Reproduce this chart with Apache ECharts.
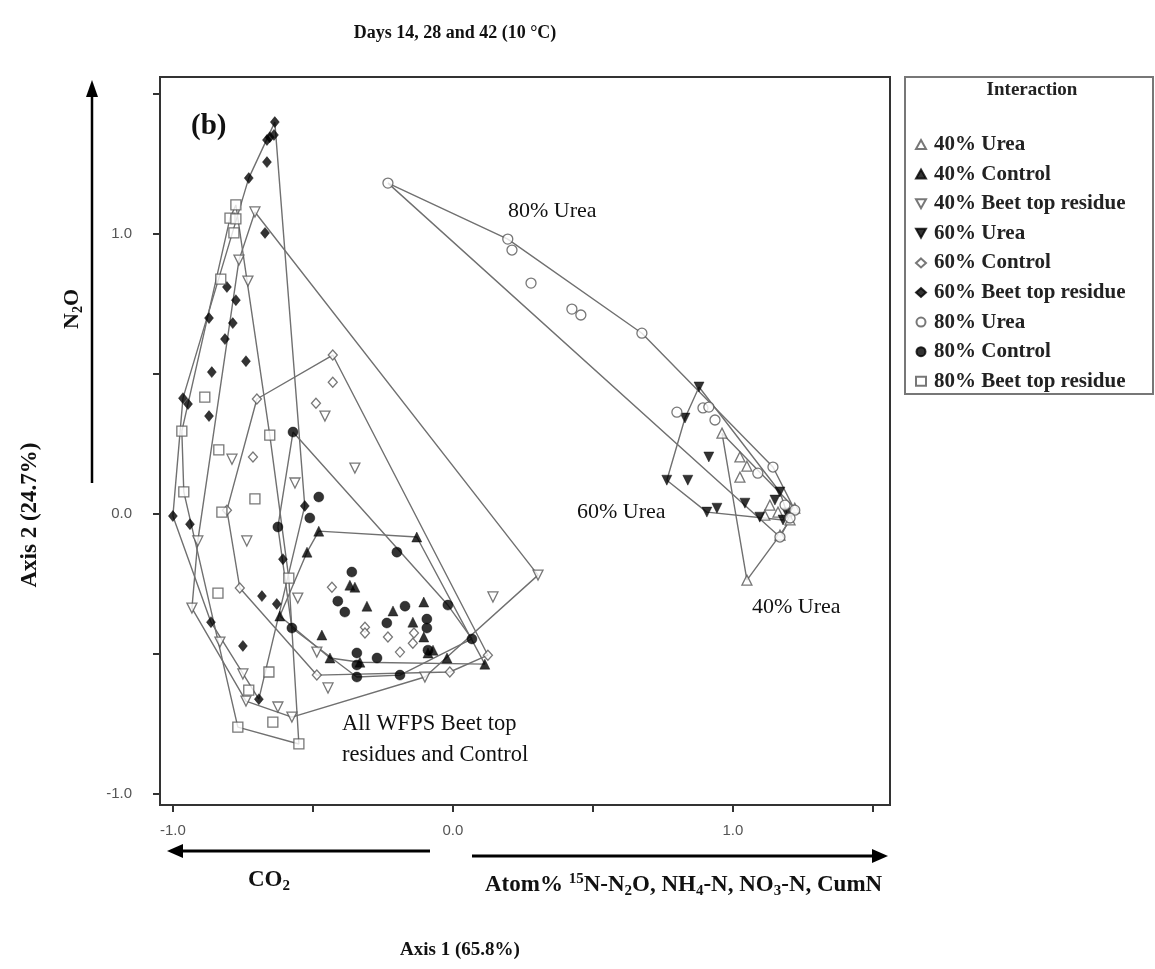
<!DOCTYPE html>
<html><head><meta charset="utf-8">
<script src="https://cdn.jsdelivr.net/npm/echarts@6/dist/echarts.min.js"></script>
<style>html,body{margin:0;padding:0;background:#fff}#c{width:1155px;height:969px}</style>
</head><body><div id="c"></div><script>
// ---- data (Axis 1, Axis 2 scores) ----
const seriesNames = ['40% Urea','40% Control','40% Beet top residue','60% Urea','60% Control','60% Beet top residue','80% Urea','80% Control','80% Beet top residue'];
const xTickValues = [-1, -0.5, 0, 0.5, 1, 1.5];
const xLabelValues = [-1, 0, 1];
const yTickValues = [-1, -0.5, 0, 0.5, 1, 1.5];
const yLabelValues = [-1, 0, 1];

const urea40 = [[0.961,0.289],[1.025,0.204],[1.050,0.171],[1.025,0.132],[1.050,-0.236],[1.132,0.032],[1.161,0.007],[1.114,-0.004],[1.204,-0.021],[1.168,-0.075],[1.221,0.021]];
const control40 = [[-0.479,-0.061],[-0.129,-0.082],[-0.521,-0.136],[-0.368,-0.254],[-0.350,-0.261],[-0.307,-0.329],[-0.214,-0.346],[-0.104,-0.314],[-0.143,-0.386],[-0.104,-0.439],[-0.468,-0.432],[-0.439,-0.514],[-0.021,-0.514],[0.114,-0.536],[-0.332,-0.529],[-0.089,-0.496],[-0.071,-0.486],[-0.618,-0.364]];
const beet40 = [[-0.707,1.079],[-0.764,0.907],[-0.732,0.832],[-0.789,0.196],[-0.564,0.111],[-0.736,-0.096],[-0.911,-0.096],[-0.457,0.350],[-0.350,0.164],[0.304,-0.218],[-0.932,-0.336],[-0.832,-0.457],[-0.750,-0.571],[-0.739,-0.668],[-0.625,-0.689],[-0.575,-0.725],[-0.554,-0.300],[-0.446,-0.621],[-0.486,-0.493],[0.143,-0.296],[-0.100,-0.582]];
const urea60 = [[0.879,0.454],[0.829,0.343],[0.914,0.204],[0.764,0.121],[0.839,0.121],[0.907,0.007],[0.943,0.021],[1.043,0.039],[1.096,-0.011],[1.168,0.079],[1.193,0.004],[1.179,-0.021],[1.150,0.050]];
const control60 = [[-0.429,0.568],[-0.429,0.471],[-0.489,0.396],[-0.700,0.411],[-0.714,0.204],[-0.807,0.014],[-0.761,-0.264],[-0.432,-0.261],[-0.314,-0.404],[-0.314,-0.425],[-0.232,-0.439],[-0.189,-0.493],[-0.143,-0.461],[-0.139,-0.425],[0.125,-0.504],[-0.486,-0.575],[-0.011,-0.564]];
const beet60 = [[-0.636,1.400],[-0.654,1.346],[-0.664,1.336],[-0.639,1.354],[-0.664,1.257],[-0.729,1.200],[-0.671,1.004],[-0.807,0.811],[-0.775,0.764],[-0.871,0.700],[-0.786,0.682],[-0.814,0.625],[-0.739,0.546],[-0.861,0.507],[-0.964,0.414],[-0.946,0.393],[-0.871,0.350],[-1.000,-0.007],[-0.939,-0.036],[-0.529,0.029],[-0.607,-0.161],[-0.682,-0.293],[-0.629,-0.321],[-0.864,-0.386],[-0.750,-0.471],[-0.693,-0.661]];
const urea80 = [[-0.232,1.182],[0.196,0.982],[0.211,0.943],[0.279,0.825],[0.425,0.732],[0.457,0.711],[0.675,0.646],[0.800,0.364],[0.893,0.379],[0.914,0.382],[0.936,0.336],[1.089,0.146],[1.143,0.168],[1.221,0.014],[1.168,-0.082],[1.186,0.032],[1.204,-0.014]];
const control80 = [[-0.571,0.293],[-0.479,0.061],[-0.511,-0.014],[-0.625,-0.046],[-0.575,-0.407],[-0.200,-0.136],[-0.361,-0.207],[-0.411,-0.311],[-0.386,-0.350],[-0.171,-0.329],[-0.018,-0.325],[-0.236,-0.389],[-0.093,-0.375],[-0.093,-0.407],[-0.343,-0.496],[-0.271,-0.514],[-0.343,-0.539],[-0.343,-0.582],[-0.189,-0.575],[-0.089,-0.486],[0.068,-0.446]];
const beet80 = [[-0.775,1.104],[-0.796,1.057],[-0.775,1.054],[-0.782,1.004],[-0.829,0.839],[-0.886,0.418],[-0.968,0.296],[-0.654,0.282],[-0.836,0.229],[-0.961,0.079],[-0.707,0.054],[-0.825,0.007],[-0.839,-0.282],[-0.586,-0.229],[-0.657,-0.564],[-0.729,-0.629],[-0.768,-0.761],[-0.643,-0.743],[-0.550,-0.821]];

// ---- styling ----
const SERIF = "'Liberation Serif','Times New Roman',serif";
const SANS = "'Liberation Sans',Arial,sans-serif";
const allData = [urea40, control40, beet40, urea60, control60, beet60, urea80, control80, beet80];
const open = {color:'#fff', borderColor:'#555', borderWidth:1.3};
const filled = {color:'#000', borderColor:'#000', borderWidth:0.5};
const DOWN = 'path://M0,0L10,0L5,9Z';
const styles = [
  {symbol:'triangle', size:10, item:open},
  {symbol:'triangle', size:10, item:filled},
  {symbol:DOWN, size:10, item:open},
  {symbol:DOWN, size:10, item:filled},
  {symbol:'diamond', size:[9,10], item:open},
  {symbol:'diamond', size:[9,11], item:filled},
  {symbol:'circle', size:10, item:open},
  {symbol:'circle', size:10, item:filled},
  {symbol:'rect', size:10, item:open}
];

function hull(pts){
  const p = pts.slice().sort((a,b)=>a[0]-b[0]||a[1]-b[1]);
  const cross=(o,a,b)=>(a[0]-o[0])*(b[1]-o[1])-(a[1]-o[1])*(b[0]-o[0]);
  const lower=[];for(const q of p){while(lower.length>=2&&cross(lower[lower.length-2],lower[lower.length-1],q)<=0)lower.pop();lower.push(q);}
  const upper=[];for(let i=p.length-1;i>=0;i--){const q=p[i];while(upper.length>=2&&cross(upper[upper.length-2],upper[upper.length-1],q)<=0)upper.pop();upper.push(q);}
  upper.pop();lower.pop();
  const h=lower.concat(upper);h.push(h[0]);return h;
}

const series = [];
allData.forEach((d,i)=>{
  series.push({type:'line', name:'hull'+i, data:hull(d), symbol:'none', silent:true, z:1,
    lineStyle:{color:'#707070', width:1.4}, animation:false});
});
allData.forEach((d,i)=>{
  const s = styles[i];
  series.push({type:'scatter', name:seriesNames[i], data:d, symbol:s.symbol, symbolSize:s.size,
    itemStyle:s.item, z:3, animation:false});
});

const chart = echarts.init(document.getElementById('c'), null, {renderer:'canvas'});
const axisCommon = {
  type:'value', splitLine:{show:false},
  axisLine:{show:true, onZero:false, lineStyle:{color:'#333', width:2}},
};
const sub = (size, va) => ({fontFamily:SERIF, fontWeight:'bold', fontSize:size, lineHeight:size, verticalAlign:va, fill:'#111'});
const main = size => ({fontFamily:SERIF, fontWeight:'bold', fontSize:size, lineHeight:size+4, fill:'#111'});
chart.setOption({
  backgroundColor:'#fff',
  animation:false,
  grid:{left:160, right:265, top:77, bottom:164, show:true, borderColor:'#333', borderWidth:2, backgroundColor:'transparent'},
  xAxis:Object.assign({}, axisCommon, {min:-1.046, max:1.561,
    axisTick:{show:true, inside:false, length:7, lineStyle:{color:'#333', width:2}, customValues:xTickValues},
    axisLabel:{customValues:xLabelValues, formatter:v=>Number(v).toFixed(1), color:'#555', fontFamily:SANS, fontSize:15, margin:18}}),
  yAxis:Object.assign({}, axisCommon, {min:-1.039, max:1.561,
    axisTick:{show:true, inside:false, length:7, lineStyle:{color:'#333', width:2}, customValues:yTickValues},
    axisLabel:{customValues:yLabelValues, formatter:v=>Number(v).toFixed(1), color:'#555', fontFamily:SANS, fontSize:15, margin:28}}),
  legend:{
    data:seriesNames, orient:'vertical', left:910, top:129, selectedMode:false,
    itemWidth:10, itemHeight:9, itemGap:8.6,
    textStyle:{fontFamily:SERIF, fontWeight:'bold', fontSize:21, lineHeight:21, color:'#222', padding:[0,0,0,3]}
  },
  graphic:[
    {type:'rect', shape:{x:905,y:77,width:248,height:317}, style:{fill:'none', stroke:'#777', lineWidth:2}},
    {type:'text', x:1032, y:90, style:{text:'Interaction', fontFamily:SERIF, fontWeight:'bold', fontSize:19, fill:'#222', textAlign:'center', textVerticalAlign:'middle'}},
    {type:'text', x:455, y:33, style:{text:'Days 14, 28 and 42 (10 °C)', fontFamily:SERIF, fontWeight:'bold', fontSize:18, fill:'#111', textAlign:'center', textVerticalAlign:'middle'}},
    {type:'text', x:191, y:127, style:{text:'(b)', fontFamily:SERIF, fontWeight:'bold', fontSize:29, fill:'#111', textAlign:'left', textVerticalAlign:'middle'}},
    {type:'text', x:30, y:515, rotation:Math.PI/2, style:{text:'Axis 2 (24.7%)', fontFamily:SERIF, fontWeight:'bold', fontSize:23, fill:'#111', textAlign:'center', textVerticalAlign:'middle'}},
    {type:'text', x:72, y:309, rotation:Math.PI/2, style:{text:'{a|N}{s|2}{a|O}', textAlign:'center', textVerticalAlign:'middle',
      rich:{a:main(22), s:sub(14,'bottom')}}},
    {type:'text', x:460, y:950, style:{text:'Axis 1 (65.8%)', fontFamily:SERIF, fontWeight:'bold', fontSize:19, fill:'#111', textAlign:'center', textVerticalAlign:'middle'}},
    {type:'text', x:269, y:880, style:{text:'{a|CO}{s|2}', textAlign:'center', textVerticalAlign:'middle',
      rich:{a:main(23), s:sub(15,'bottom')}}},
    {type:'text', x:485, y:885, style:{text:'{a|Atom% }{p|15}{a|N-N}{s|2}{a|O, NH}{s|4}{a|-N, NO}{s|3}{a|-N, CumN}', textAlign:'left', textVerticalAlign:'middle',
      rich:{a:main(23), s:sub(15,'bottom'), p:sub(15,'top')}}},
    // arrows
    {type:'line', shape:{x1:92,y1:483,x2:92,y2:94}, style:{stroke:'#000', lineWidth:2.5}},
    {type:'polygon', shape:{points:[[92,80],[86,97],[98,97]]}, style:{fill:'#000'}},
    {type:'line', shape:{x1:430,y1:851,x2:180,y2:851}, style:{stroke:'#000', lineWidth:3}},
    {type:'polygon', shape:{points:[[167,851],[183,844],[183,858]]}, style:{fill:'#000'}},
    {type:'line', shape:{x1:472,y1:856,x2:874,y2:856}, style:{stroke:'#000', lineWidth:3}},
    {type:'polygon', shape:{points:[[888,856],[872,849],[872,863]]}, style:{fill:'#000'}},
    // annotations
    {type:'text', x:508, y:211, style:{text:'80% Urea', fontFamily:SERIF, fontSize:22, fill:'#111', textAlign:'left', textVerticalAlign:'middle'}},
    {type:'text', x:577, y:512, style:{text:'60% Urea', fontFamily:SERIF, fontSize:22, fill:'#111', textAlign:'left', textVerticalAlign:'middle'}},
    {type:'text', x:752, y:607, style:{text:'40% Urea', fontFamily:SERIF, fontSize:22, fill:'#111', textAlign:'left', textVerticalAlign:'middle'}},
    {type:'text', x:342, y:724, style:{text:'All WFPS Beet top', fontFamily:SERIF, fontSize:22.5, fill:'#111', textAlign:'left', textVerticalAlign:'middle'}},
    {type:'text', x:342, y:755, style:{text:'residues and Control', fontFamily:SERIF, fontSize:22.5, fill:'#111', textAlign:'left', textVerticalAlign:'middle'}}
  ],
  series:series
});
</script></body></html>
